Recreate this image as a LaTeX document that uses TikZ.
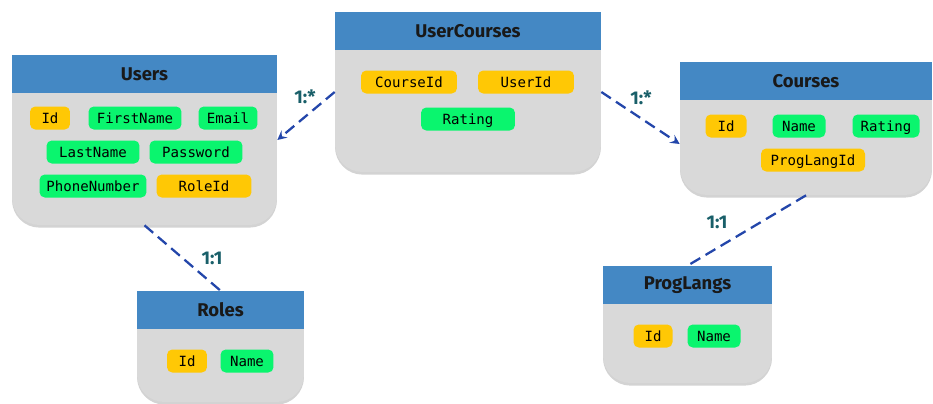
\documentclass[tikz,border=0pt]{standalone}
\usepackage{fontspec}
\setmainfont{Fira Sans}
\setmonofont{DejaVu Sans Mono}
\usetikzlibrary{shadows}
\definecolor{headblue}{RGB}{68,136,196}
\definecolor{bodygray}{RGB}{217,217,217}
\definecolor{fldgreen}{RGB}{10,245,110}
\definecolor{pkorange}{RGB}{255,200,5}
\definecolor{linkblue}{RGB}{35,70,170}
\definecolor{cardteal}{RGB}{25,95,105}

\begin{document}
\begin{tikzpicture}[x=0.02cm, y=-0.02cm, >=stealth,
  tbl/.style={fill=bodygray, rounded corners=0.55cm, inner sep=0pt,
    drop shadow={opacity=0.35, shadow xshift=0pt, shadow yshift=-1.5pt}},
  ttl/.style={font=\fontsize{10.5}{12}\selectfont\bfseries, text=black!90},
  fld/.style={fill=fldgreen, rounded corners=3pt, minimum height=0.46cm,
    inner ysep=0pt, inner xsep=2pt, minimum width=#1,
    text height=1.6ex, text depth=0.4ex,
    font=\ttfamily\fontsize{8}{9}\selectfont},
  fld/.default=1cm,
  pk/.style={fld=#1, fill=pkorange},
  pk/.default=0.8cm,
  link/.style={dashed, dash pattern=on 6.5pt off 3.5pt, line width=1.3pt, linkblue},
  card/.style={font=\fontsize{10.5}{12}\selectfont\bfseries, text=cardteal}]
  \useasboundingbox (0,0) rectangle (933,403);
  % 1. Các bảng (thân xám)
  \node[tbl, minimum width=5.3cm, minimum height=3.4cm] (users) at (144.5,140) {};
  \node[tbl, minimum width=5.32cm, minimum height=3.2cm] (uc) at (468,92) {};
  \node[tbl, minimum width=5.04cm, minimum height=2.66cm] (courses) at (806,128.5) {};
  \node[tbl, minimum width=3.34cm, minimum height=2.22cm] (roles) at (220.5,346.5) {};
  \node[tbl, minimum width=3.38cm, minimum height=2.34cm] (proglangs) at (687.5,324.5) {};
  % 2. Thanh tiêu đề
  \fill[headblue] (users.north west) rectangle ++(265,38);
  \fill[headblue] (uc.north west) rectangle ++(266,38);
  \fill[headblue] (courses.north west) rectangle ++(252,38);
  \fill[headblue] (roles.north west) rectangle ++(167,38);
  \fill[headblue] (proglangs.north west) rectangle ++(169,38);
  \node[ttl] (usersT) at (144.5,74) {Users};
  \node[ttl] (ucT) at (468,31) {UserCourses};
  \node[ttl] (coursesT) at (806,81) {Courses};
  \node[ttl] (rolesT) at (220.5,310) {Roles};
  \node[ttl] (proglangsT) at (687.5,285) {ProgLangs};
  % 3. Các trường của Users
  \node[pk] (uId) at (50,118) {Id};
  \node[fld=1.86cm] (uFirst) at (135,118) {FirstName};
  \node[fld=1.18cm] (uEmail) at (228,118) {Email};
  \node[fld=1.86cm] (uLast) at (93,152) {LastName};
  \node[fld=1.86cm] (uPass) at (196,152) {Password};
  \node[fld=2.14cm] (uPhone) at (93,186) {PhoneNumber};
  \node[pk=1.9cm] (uRole) at (204,186) {RoleId};
  % 4. Các trường của UserCourses
  \node[pk=1.92cm] (ucCourse) at (409,82) {CourseId};
  \node[pk=1.92cm] (ucUser) at (526,82) {UserId};
  \node[fld=1.88cm] (ucRating) at (468,119) {Rating};
  % 5. Các trường của Courses
  \node[pk=0.82cm] (cId) at (726,126) {Id};
  \node[fld=1.06cm] (cName) at (799,126) {Name};
  \node[fld=1.34cm] (cRating) at (886,126) {Rating};
  \node[pk=2.08cm] (cLang) at (813,160) {ProgLangId};
  % 6. Các trường của Roles và ProgLangs
  \node[pk] (rId) at (187,361) {Id};
  \node[fld=1.06cm] (rName) at (247,361) {Name};
  \node[pk=0.78cm] (pId) at (653,336) {Id};
  \node[fld=1.06cm] (pName) at (714,336) {Name};
  % 7. Các liên kết nét đứt
  \draw[link, ->] (uc.west) -- (users.east);
  \draw[link, ->] (uc.east) -- (courses.187);
  \draw[link] (users.south) -- (roles.north);
  \draw[link] (courses.south) -- (proglangs.north);
  % 8. Nhãn bản số
  \node[card] (cardUsers) at (305,97) {1:*};
  \node[card] (cardCourses) at (641,98) {1:*};
  \node[card] (cardRoles) at (212,258) {1:1};
  \node[card] (cardLangs) at (717,222) {1:1};
\end{tikzpicture}
\end{document}
